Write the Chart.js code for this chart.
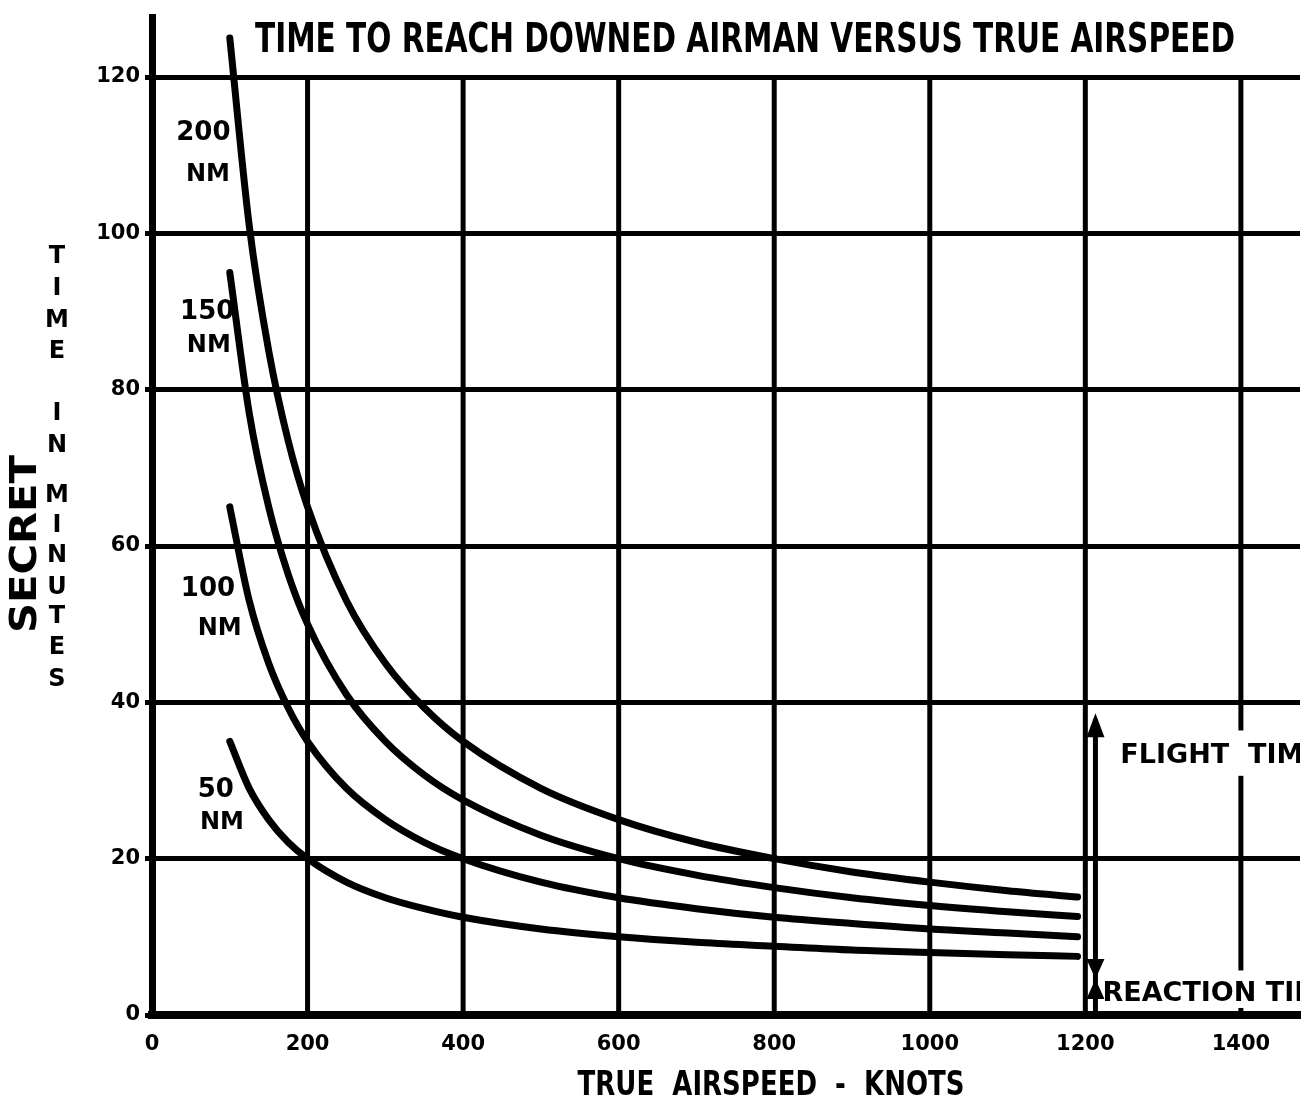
<!doctype html>
<html>
<head>
    <title>Time to reach downed airman</title>
    <script src="https://cdn.jsdelivr.net/npm/chart.js@4.4.1/dist/chart.umd.min.js"></script>
    <style>
        html, body { margin: 0; padding: 0; background: #fff; }
        canvas { display: block; }
    </style>
</head>
<body>
<canvas id="canvas" width="1315" height="1097"></canvas>
<script>
    // true airspeed (knots) at which the curves were read
    var speeds = [100, 125, 150, 175, 200, 250, 300, 350, 400, 500, 600, 700, 800, 900, 1000, 1100, 1190];

    // time to reach downed airman (minutes), one list per distance
    var nm200 = [125, 101, 85, 73.5, 65, 53, 45, 39.3, 35, 29, 25, 22.1, 20, 18.3, 17, 15.9, 15.1];
    var nm150 = [95, 77, 65, 56.4, 50, 41, 35, 30.7, 27.5, 23, 20, 17.9, 16.3, 15, 14, 13.2, 12.6];
    var nm100 = [65, 53, 45, 39.3, 35, 29, 25, 22.1, 20, 17, 15, 13.6, 12.5, 11.7, 11, 10.5, 10];
    var nm50  = [35, 29, 25, 22.1, 20, 17, 15, 13.6, 12.5, 11, 10, 9.3, 8.8, 8.3, 8, 7.7, 7.5];

    var distances = ['200', '150', '100', '50'];
    var series = [nm200, nm150, nm100, nm50];

    var xTicks = [0, 200, 400, 600, 800, 1000, 1200, 1400];
    var yTicks = [0, 20, 40, 60, 80, 100, 120];

    var FONT = '"DejaVu Sans", sans-serif';

    function points(ys){
        var out = [];
        for(var i = 0; i < speeds.length; ++i){
            out.push({x: speeds[i], y: ys[i]});
        }
        return out;
    }

    var datasets = [];
    for(var i = 0; i < series.length; ++i){
        datasets.push({
            label: distances[i] + ' NM',
            data: points(series[i]),
            borderColor: '#000',
            borderWidth: 7,
            borderCapStyle: 'round',
            pointRadius: 0,
            cubicInterpolationMode: 'monotone',
            fill: false
        });
    }

    // text squeezed to a given width, baseline at y
    function fitText(c, txt, cx, y, width, font){
        c.save();
        c.font = font;
        c.textAlign = 'center';
        c.textBaseline = 'alphabetic';
        var w = c.measureText(txt).width;
        c.translate(cx, y);
        c.scale(width / w, 1);
        c.fillText(txt, 0, 0);
        c.restore();
    }

    var paperPlugin = {
        id: 'paper',
        beforeDraw: function(chart){
            var c = chart.ctx;
            c.save();
            c.fillStyle = '#fff';
            c.fillRect(0, 0, chart.width, chart.height);
            c.restore();
        },
        beforeDatasetsDraw: function(chart){
            // vertical grid only runs up to the 120 line
            var x = chart.scales.x, y = chart.scales.y, c = chart.ctx;
            c.save();
            c.strokeStyle = '#000';
            c.lineWidth = 5;
            xTicks.forEach(function(v){
                if(v === 0) return;
                var px = x.getPixelForValue(v);
                c.beginPath();
                c.moveTo(px, y.getPixelForValue(0));
                c.lineTo(px, y.getPixelForValue(120));
                c.stroke();
            });
            c.restore();
        },
        afterDraw: function(chart){
            var x = chart.scales.x, y = chart.scales.y, c = chart.ctx;
            var area = chart.chartArea;
            c.save();
            c.fillStyle = '#000';
            c.strokeStyle = '#000';

            // title
            fitText(c, 'TIME TO REACH DOWNED AIRMAN VERSUS TRUE AIRSPEED', 745, 52, 980, 'bold 40px ' + FONT);

            // curve labels: [x of number, y of number, x of NM, y of NM]
            var lab = [[66, 112.8, 72, 107.5], [71, 89.9, 73, 85.6], [72, 54.5, 87, 49.4], [82, 28.7, 90, 24.6]];
            c.textAlign = 'center';
            c.textBaseline = 'middle';
            for(var i = 0; i < lab.length; ++i){
                c.font = 'bold 26px ' + FONT;
                c.fillText(distances[i], x.getPixelForValue(lab[i][0]), y.getPixelForValue(lab[i][1]));
                c.font = 'bold 24px ' + FONT;
                c.fillText('NM', x.getPixelForValue(lab[i][2]), y.getPixelForValue(lab[i][3]));
            }

            // gaps in the 1400 line for the side notes
            var gx = x.getPixelForValue(1400);
            c.fillStyle = '#fff';
            c.fillRect(gx - 6, y.getPixelForValue(36.4), 12, y.getPixelForValue(30.6) - y.getPixelForValue(36.4));
            c.fillRect(gx - 6, y.getPixelForValue(5.7), 12, y.getPixelForValue(0.9) - y.getPixelForValue(5.7));
            c.fillStyle = '#000';

            // flight time / reaction time arrow
            var ax = x.getPixelForValue(1213);
            var top = y.getPixelForValue(38.6);
            var mid = y.getPixelForValue(4.6);
            c.lineWidth = 5;
            c.beginPath();
            c.moveTo(ax, top + 6);
            c.lineTo(ax, y.getPixelForValue(0));
            c.stroke();
            c.beginPath();
            c.moveTo(ax, top);
            c.lineTo(ax - 9, top + 24);
            c.lineTo(ax + 9, top + 24);
            c.closePath();
            c.fill();
            c.beginPath();
            c.moveTo(ax - 9, mid - 20);
            c.lineTo(ax + 9, mid - 20);
            c.lineTo(ax, mid);
            c.lineTo(ax + 9, mid + 20);
            c.lineTo(ax - 9, mid + 20);
            c.lineTo(ax, mid);
            c.closePath();
            c.fill();

            c.save();
            c.beginPath();
            c.rect(area.left, area.top, area.right - area.left, area.bottom - area.top);
            c.clip();
            c.textAlign = 'left';
            c.textBaseline = 'alphabetic';
            c.font = 'bold 27px ' + FONT;
            c.fillText('FLIGHT  TIME', x.getPixelForValue(1245), y.getPixelForValue(32.3));
            c.fillText('REACTION TIME', x.getPixelForValue(1222), y.getPixelForValue(1.8));
            c.restore();

            // axis titles
            fitText(c, 'TRUE  AIRSPEED  -  KNOTS', 771, 1095, 387, 'bold 34px ' + FONT);

            var letters = [['T', 257], ['I', 289], ['M', 321], ['E', 352],
                           ['I', 414], ['N', 446], ['M', 496], ['I', 526], ['N', 556],
                           ['U', 588], ['T', 617], ['E', 648], ['S', 680]];
            c.font = 'bold 24px ' + FONT;
            c.textAlign = 'center';
            c.textBaseline = 'middle';
            letters.forEach(function(l){ c.fillText(l[0], 57, l[1]); });

            // classification stamp on the margin
            c.save();
            c.translate(23, 544);
            c.rotate(-Math.PI / 2);
            fitText(c, 'SECRET', 0, 13, 178, 'bold 38px ' + FONT);
            c.restore();

            c.restore();
        }
    };

    window.onload = function(){
        var ctx = document.getElementById('canvas').getContext('2d');
        window.myChart = new Chart(ctx, {
            type: 'line',
            data: { datasets: datasets },
            plugins: [paperPlugin],
            options: {
                responsive: false,
                animation: false,
                layout: { padding: { left: 0, right: 15, top: 4, bottom: 0 } },
                plugins: { legend: { display: false }, tooltip: { enabled: false } },
                scales: {
                    x: {
                        type: 'linear',
                        min: 0,
                        max: 1476,
                        afterFit: function(s){ s.height = 82; },
                        afterBuildTicks: function(s){
                            s.ticks = xTicks.map(function(v){ return {value: v}; });
                        },
                        grid: { display: false },
                        border: { display: true, color: '#000', width: 8 },
                        ticks: {
                            color: '#000',
                            padding: 9,
                            maxRotation: 0,
                            autoSkip: false,
                            font: { family: FONT, weight: 'bold', size: 21 },
                            callback: function(v){ return String(v); }
                        }
                    },
                    y: {
                        min: 0,
                        max: 127.6,
                        afterFit: function(s){ s.width = 152; },
                        afterBuildTicks: function(s){
                            s.ticks = yTicks.map(function(v){ return {value: v}; });
                        },
                        grid: { color: '#000', lineWidth: 5, tickLength: 7, drawTicks: true },
                        border: { display: true, color: '#000', width: 7 },
                        ticks: {
                            color: '#000',
                            padding: 5,
                            autoSkip: false,
                            font: { family: FONT, weight: 'bold', size: 21 },
                            callback: function(v){ return String(v); }
                        }
                    }
                }
            }
        });
    };
</script>
</body>
</html>
